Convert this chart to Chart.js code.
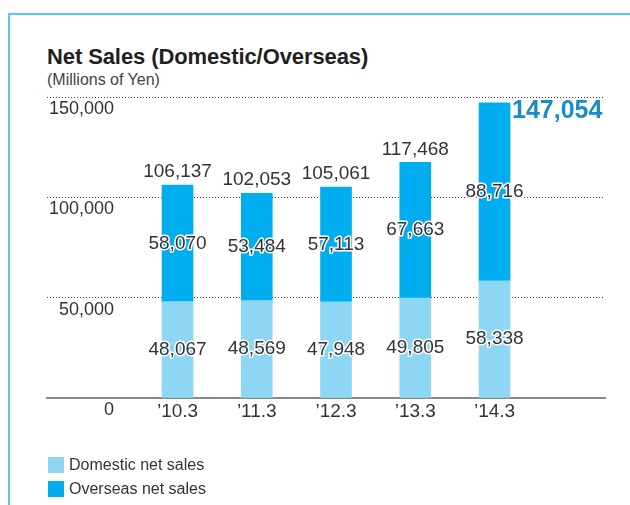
<!DOCTYPE html>
<html>
<head>
<meta charset="utf-8">
<title>Net Sales</title>
<script src="https://cdn.jsdelivr.net/npm/chart.js@4.4.1/dist/chart.umd.min.js"></script>
<style>
  body { margin: 0; background: #fff; }
  #wrap { position: relative; width: 630px; height: 505px; overflow: hidden;
          font-family: "Liberation Sans", Arial, sans-serif; color: #333; }
  .frame-top { position: absolute; left: 8px; top: 13px; width: 622px; height: 2px; background: #5cc6ef; }
  .frame-left { position: absolute; left: 8px; top: 13px; width: 2px; height: 492px; background: #5cc6ef; }
  h1 { position: absolute; left: 47px; top: 44px; margin: 0; white-space: nowrap;
       font: bold 22px "Liberation Sans", Arial, sans-serif; color: #231f20; letter-spacing: -0.1px; }
  .unit { position: absolute; left: 47px; top: 71px; font-size: 16px; color: #444; }
  canvas { position: absolute; left: 0; top: 0; }
  #legend { position: absolute; left: 48px; top: 453px; }
  #legend div { display: flex; align-items: center; height: 24px; font-size: 16px; color: #333; }
  #legend .box { width: 16px; height: 16px; margin-right: 5px; }
</style>
</head>
<body>
<div id="wrap">
  <div class="frame-top"></div>
  <div class="frame-left"></div>
  <h1>Net Sales (Domestic/Overseas)</h1>
  <div class="unit">(Millions of Yen)</div>
  <canvas id="salesChart" width="630" height="505"></canvas>
  <div id="legend"></div>
</div>
<script>
// ---- data ----
const years = ["\u201910.3", "\u201911.3", "\u201912.3", "\u201913.3", "\u201914.3"];
const domestic = [48067, 48569, 47948, 49805, 58338];
const overseas = [58070, 53484, 57113, 67663, 88716];
const yTicks = [0, 50000, 100000, 150000];
const seriesNames = ["Domestic net sales", "Overseas net sales"];
const seriesColors = ["#8dd7f5", "#00aeef"];

const fmt = v => v.toLocaleString("en-US");
const TEXT = "#333333";
const FONT = '"Liberation Sans", Arial, sans-serif';

// ---- value labels: segment values inside, totals on top ----
const barLabels = {
    id: "barLabels",
    afterDatasetsDraw(chart) {
        const ctx = chart.ctx;
        const lower = chart.getDatasetMeta(0).data;
        const upper = chart.getDatasetMeta(1).data;
        ctx.save();
        ctx.textAlign = "center";
        ctx.textBaseline = "middle";
        ctx.lineJoin = "round";
        ctx.font = "19px " + FONT;
        [lower, upper].forEach((bars, d) => {
            const values = d === 0 ? domestic : overseas;
            bars.forEach((bar, i) => {
                const y = (bar.y + bar.base) / 2;
                ctx.strokeStyle = "#fff";
                ctx.lineWidth = 3;
                ctx.strokeText(fmt(values[i]), bar.x, y);
                ctx.fillStyle = TEXT;
                ctx.fillText(fmt(values[i]), bar.x, y);
            });
        });
        // the latest year's total is highlighted beside its bar
        upper.forEach((bar, i) => {
            const total = domestic[i] + overseas[i];
            if (i === upper.length - 1) {
                ctx.font = "bold 25px " + FONT;
                ctx.textAlign = "left";
                ctx.fillStyle = "#1a8dc4";
                ctx.fillText(fmt(total), bar.x + bar.width / 2 + 2, bar.y + 8);
            } else {
                ctx.font = "19px " + FONT;
                ctx.textAlign = "center";
                ctx.fillStyle = TEXT;
                ctx.fillText(fmt(total), bar.x, bar.y - 13);
            }
        });
        ctx.restore();
    }
};

// ---- y tick labels sit just under their grid lines ----
const yLabels = {
    id: "yLabels",
    afterDraw(chart) {
        const ctx = chart.ctx;
        const y = chart.scales.y;
        ctx.save();
        ctx.font = "18px " + FONT;
        ctx.fillStyle = TEXT;
        ctx.textAlign = "right";
        ctx.textBaseline = "middle";
        y.ticks.forEach(t => {
            ctx.fillText(fmt(t.value), 114, y.getPixelForValue(t.value) + 12);
        });
        ctx.restore();
    }
};

new Chart(document.getElementById("salesChart"), {
    type: "bar",
    data: {
        datasets: [domestic, overseas].map((vals, d) => ({
            label: seriesNames[d],
            data: vals.map((v, i) => ({ x: i, y: v })),
            backgroundColor: seriesColors[d],
            borderWidth: 0,
            barThickness: 31
        }))
    },
    options: {
        responsive: false,
        animation: false,
        layout: { padding: { left: 47, right: 25, top: 97, bottom: 77 } },
        plugins: { legend: { display: false }, tooltip: { enabled: false } },
        scales: {
            x: {
                type: "linear",
                stacked: true,
                offset: false,
                min: -1.647,
                max: 5.394,
                afterBuildTicks: s => { s.ticks = years.map((_, i) => ({ value: i })); },
                afterFit: s => { s.height = 30; },
                grid: { display: false, offset: false },
                border: { display: true, color: "#8a8a8a", width: 2 },
                ticks: {
                    autoSkip: false,
                    maxRotation: 0,
                    padding: -6,
                    color: TEXT,
                    font: { size: 19, family: FONT },
                    callback: v => years[v]
                }
            },
            y: {
                stacked: true,
                min: 0,
                max: 150000,
                afterBuildTicks: s => { s.ticks = yTicks.map(v => ({ value: v })); },
                afterFit: s => { s.width = 0; },
                ticks: { display: false },
                border: { display: false, dash: [1, 2] },
                grid: {
                    drawTicks: false,
                    color: c => (c.tick && c.tick.value === 0 ? "rgba(0,0,0,0)" : "#444")
                }
            }
        }
    },
    plugins: [barLabels, yLabels]
});

// ---- legend ----
const legend = document.getElementById("legend");
seriesNames.forEach((name, d) => {
    const row = document.createElement("div");
    const box = document.createElement("span");
    box.className = "box";
    box.style.background = seriesColors[d];
    row.appendChild(box);
    row.appendChild(document.createTextNode(name));
    legend.appendChild(row);
});
</script>
</body>
</html>
